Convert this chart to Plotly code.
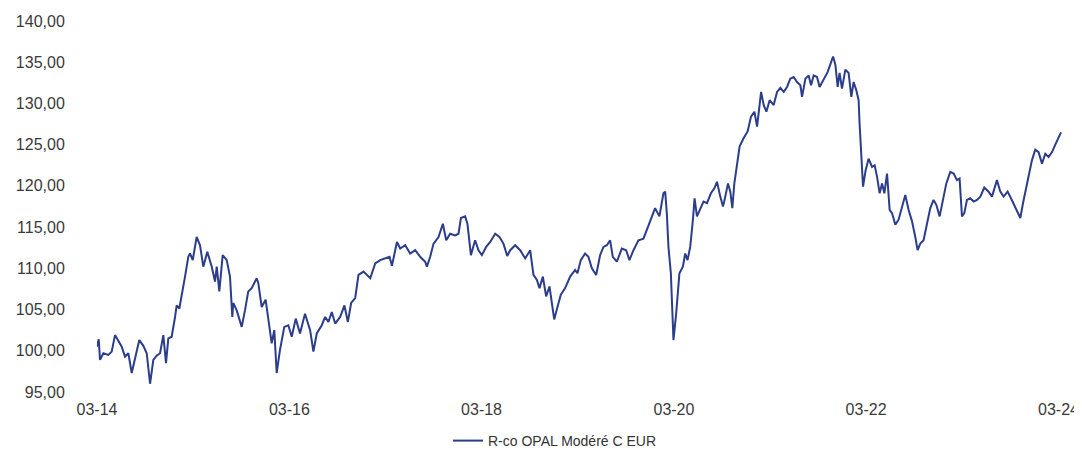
import datetime as dt
import plotly.graph_objects as go

# Time axis, in decimal years
years = [
    2014.160, 2014.180, 2014.193, 2014.228, 2014.280, 2014.315, 2014.349, 2014.384, 2014.419, 2014.453,
    2014.488, 2014.523, 2014.557, 2014.602, 2014.644, 2014.679, 2014.714, 2014.748, 2014.783, 2014.818,
    2014.852, 2014.880, 2014.904, 2014.939, 2014.974, 2014.991, 2015.018, 2015.043, 2015.078, 2015.112,
    2015.130, 2015.158, 2015.199, 2015.234, 2015.268, 2015.310, 2015.356, 2015.390, 2015.408, 2015.435,
    2015.470, 2015.512, 2015.546, 2015.570, 2015.580, 2015.616, 2015.668, 2015.702, 2015.736, 2015.772,
    2015.824, 2015.841, 2015.876, 2015.917, 2015.945, 2015.980, 2016.007, 2016.032, 2016.066, 2016.111,
    2016.153, 2016.188, 2016.230, 2016.274, 2016.326, 2016.379, 2016.413, 2016.448, 2016.500, 2016.535,
    2016.569, 2016.604, 2016.639, 2016.691, 2016.735, 2016.771, 2016.805, 2016.847, 2016.881, 2016.933,
    2017.003, 2017.055, 2017.107, 2017.159, 2017.204, 2017.229, 2017.281, 2017.315, 2017.367, 2017.419,
    2017.471, 2017.523, 2017.575, 2017.593, 2017.627, 2017.662, 2017.714, 2017.759, 2017.794, 2017.835,
    2017.887, 2017.922, 2017.947, 2017.991, 2018.015, 2018.051, 2018.095, 2018.130, 2018.165, 2018.210,
    2018.252, 2018.304, 2018.348, 2018.390, 2018.429, 2018.460, 2018.512, 2018.564, 2018.616, 2018.668,
    2018.702, 2018.738, 2018.765, 2018.800, 2018.834, 2018.869, 2018.894, 2018.918, 2018.952, 2018.987,
    2019.032, 2019.084, 2019.136, 2019.160, 2019.195, 2019.240, 2019.274, 2019.310, 2019.355, 2019.396,
    2019.431, 2019.466, 2019.500, 2019.528, 2019.570, 2019.622, 2019.667, 2019.701, 2019.743, 2019.795,
    2019.847, 2019.882, 2019.916, 2019.968, 2020.013, 2020.055, 2020.073, 2020.090, 2020.107, 2020.132,
    2020.149, 2020.159, 2020.187, 2020.221, 2020.257, 2020.281, 2020.305, 2020.333, 2020.361, 2020.378,
    2020.403, 2020.437, 2020.471, 2020.507, 2020.548, 2020.583, 2020.611, 2020.645, 2020.673, 2020.697,
    2020.725, 2020.749, 2020.770, 2020.791, 2020.812, 2020.846, 2020.888, 2020.929, 2020.964, 2020.999,
    2021.027, 2021.054, 2021.069, 2021.096, 2021.124, 2021.158, 2021.200, 2021.235, 2021.269, 2021.304,
    2021.339, 2021.373, 2021.408, 2021.443, 2021.478, 2021.495, 2021.530, 2021.564, 2021.589, 2021.616,
    2021.651, 2021.678, 2021.720, 2021.761, 2021.789, 2021.818, 2021.842, 2021.866, 2021.886, 2021.911,
    2021.946, 2021.980, 2022.008, 2022.032, 2022.060, 2022.084, 2022.094, 2022.102, 2022.115, 2022.130,
    2022.157, 2022.188, 2022.224, 2022.251, 2022.276, 2022.303, 2022.328, 2022.352, 2022.380, 2022.407,
    2022.432, 2022.466, 2022.500, 2022.536, 2022.570, 2022.604, 2022.640, 2022.674, 2022.698, 2022.726,
    2022.760, 2022.796, 2022.830, 2022.864, 2022.893, 2022.927, 2022.962, 2022.997, 2023.038, 2023.073,
    2023.108, 2023.135, 2023.160, 2023.184, 2023.212, 2023.246, 2023.281, 2023.316, 2023.351, 2023.392,
    2023.437, 2023.472, 2023.524, 2023.559, 2023.593, 2023.635, 2023.670, 2023.704, 2023.732, 2023.767,
    2023.795, 2023.819, 2023.853, 2023.888, 2023.923, 2023.957, 2023.993, 2024.027, 2024.061, 2024.097,
    2024.131, 2024.165, 2024.190,
]

# Fund value
nav = [
    100.5, 101.4, 98.9, 99.7, 99.5, 99.9, 101.9, 101.1, 100.5, 99.3,
    99.7, 97.3, 98.9, 101.3, 100.6, 99.7, 96.0, 98.9, 99.4, 99.7,
    101.9, 98.5, 101.5, 101.7, 104.1, 105.5, 105.1, 106.6, 109.0, 111.4,
    111.8, 111.0, 113.8, 112.8, 110.2, 112.0, 110.2, 108.4, 110.2, 107.2,
    111.6, 111.0, 109.0, 104.1, 105.8, 104.9, 102.9, 104.9, 107.2, 107.6,
    108.8, 108.2, 105.3, 106.2, 104.1, 100.9, 102.5, 97.3, 100.1, 102.9,
    103.1, 101.7, 103.9, 102.1, 104.5, 102.5, 99.9, 102.1, 103.1, 104.1,
    103.5, 104.7, 103.3, 104.1, 105.5, 103.5, 105.8, 106.4, 109.2, 109.6,
    108.8, 110.6, 111.0, 111.2, 111.4, 110.3, 113.2, 112.4, 112.8, 111.8,
    112.2, 111.4, 110.8, 110.2, 111.4, 113.0, 113.8, 115.4, 113.4, 114.2,
    114.0, 114.2, 116.1, 116.3, 115.4, 111.6, 113.4, 112.2, 111.6, 112.6,
    113.2, 114.2, 113.8, 113.0, 111.5, 112.2, 112.8, 112.2, 111.2, 112.2,
    109.2, 108.6, 107.6, 109.0, 106.6, 107.8, 105.8, 103.8, 105.3, 106.8,
    107.6, 109.0, 109.8, 109.4, 111.0, 111.8, 111.4, 110.0, 109.2, 111.6,
    112.6, 112.8, 113.4, 111.4, 110.8, 112.4, 112.2, 111.0, 112.2, 113.4,
    113.6, 114.8, 115.7, 117.3, 116.3, 119.1, 119.3, 116.7, 112.6, 109.4,
    105.3, 101.3, 104.5, 109.4, 110.2, 111.8, 111.0, 112.6, 115.9, 118.5,
    116.3, 117.1, 118.1, 117.9, 119.1, 119.7, 120.5, 118.7, 117.5, 118.7,
    120.3, 119.3, 117.3, 120.3, 122.3, 124.8, 125.8, 126.6, 128.4, 129.0,
    127.2, 130.0, 131.4, 129.8, 129.0, 130.4, 129.8, 131.4, 131.9, 131.4,
    132.0, 133.0, 133.2, 132.6, 132.2, 130.8, 133.0, 133.4, 132.2, 133.4,
    133.2, 132.0, 133.0, 133.8, 134.7, 135.7, 134.7, 132.0, 133.7, 131.8,
    134.1, 133.7, 130.8, 132.6, 131.6, 130.4, 127.6, 125.6, 122.3, 119.9,
    121.9, 123.3, 122.3, 122.5, 121.1, 119.1, 120.3, 119.1, 121.5, 117.1,
    116.7, 115.3, 115.9, 117.5, 118.9, 117.1, 115.7, 113.8, 112.2, 113.0,
    113.4, 115.4, 117.3, 118.3, 117.7, 116.3, 118.5, 120.3, 121.7, 121.5,
    120.7, 120.9, 116.3, 116.7, 118.3, 118.5, 118.1, 118.3, 118.7, 119.8,
    119.3, 118.7, 120.7, 119.3, 118.7, 119.3, 118.5, 117.7, 117.1, 116.1,
    117.9, 119.3, 121.1, 123.1, 124.4, 124.1, 122.7, 123.9, 123.5, 124.1,
    125.0, 125.8, 126.5,
]

series_name = "R-co OPAL Modéré C EUR"
y_ticks = [95, 100, 105, 110, 115, 120, 125, 130, 135, 140]


def to_date(t):
    y = int(t)
    start = dt.datetime(y, 1, 1)
    end = dt.datetime(y + 1, 1, 1)
    return start + (end - start) * (t - y)


dates = [to_date(t) for t in years]

fig = go.Figure()
fig.add_trace(go.Scatter(
    x=dates, y=nav, mode="lines", name=series_name,
    line=dict(color="#2b3d8b", width=2),
    showlegend=True,
))

tick_font = dict(family="Liberation Sans, Arial, sans-serif", size=16, color="#3a3a3a")

# the page body adds an 8px offset, so the figure is 8px smaller on each side
W, H = 1074, 442
fig.update_layout(
    width=W, height=H,
    margin=dict(l=89, r=18, t=13, b=58, autoexpand=False),
    paper_bgcolor="white", plot_bgcolor="white",
    separators=", ",
    showlegend=True,
    legend=dict(
        orientation="h", xref="container", yref="container",
        x=440 / W, xanchor="left", y=1 - 417 / H, yanchor="top",
        font=dict(family="Liberation Sans, Arial, sans-serif", size=14, color="#333333"),
        bgcolor="rgba(0,0,0,0)",
    ),
    xaxis=dict(
        type="date", automargin=False,
        range=[dt.datetime(2014, 3, 1), dt.datetime(2024, 3, 22)],
        tick0="2014-03-01", dtick="M24", tickformat="%m-%y",
        showgrid=False, zeroline=False, showline=False,
        ticks="outside", ticklen=3, tickcolor="rgba(0,0,0,0)",
        tickfont=tick_font,
    ),
    yaxis=dict(
        automargin=False,
        range=[95, 140], tickvals=y_ticks, tickformat=".2f",
        showgrid=False, zeroline=False, showline=False,
        ticks="outside", ticklen=28, tickcolor="rgba(0,0,0,0)",
        tickfont=tick_font,
    ),
)

fig.write_html("out.html")
